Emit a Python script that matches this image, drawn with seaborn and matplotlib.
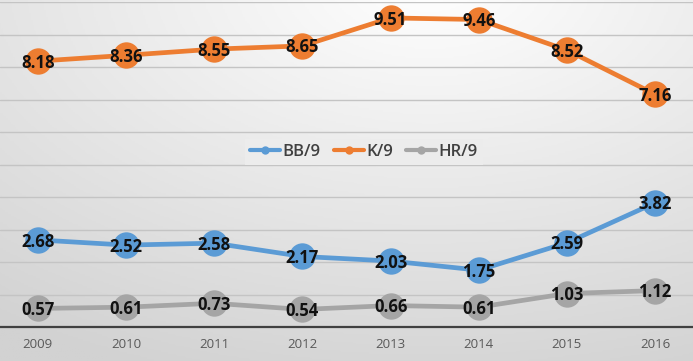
import matplotlib
matplotlib.use("Agg")
import matplotlib.pyplot as plt
import seaborn as sns
import numpy as np
import pandas as pd

years = ["2009", "2010", "2011", "2012", "2013", "2014", "2015", "2016"]
bb9 = [2.68, 2.52, 2.58, 2.17, 2.03, 1.75, 2.59, 3.82]
k9 = [8.18, 8.36, 8.55, 8.65, 9.51, 9.46, 8.52, 7.16]
hr9 = [0.57, 0.61, 0.73, 0.54, 0.66, 0.61, 1.03, 1.12]
series = ["BB/9", "K/9", "HR/9"]
colors = ["#5B9BD5", "#ED7D31", "#A5A5A5"]

df = pd.DataFrame({
    "year": years * 3,
    "value": bb9 + k9 + hr9,
    "series": [s for s in series for _ in years],
})
df["x"] = df["year"].map({y: i for i, y in enumerate(years)})

sns.set_style("white")
plt.rcParams["font.family"] = ["Open Sans", "DejaVu Sans"]

fig = plt.figure(figsize=(6.93, 3.61), dpi=100)

# radial-ish gradient background, light near top middle, gray toward edges
bg = fig.add_axes([0, 0, 1, 1], zorder=0)
gx = np.linspace(0, 1, 400)
gy = np.linspace(1, 0, 200)
GX, GY = np.meshgrid(gx, gy)
dist = np.sqrt(((GX - 0.62) * 1.0) ** 2 + ((1.05 - GY) * 0.9) ** 2)
grad = np.clip(dist / 1.05, 0, 1)
cmap = matplotlib.colors.LinearSegmentedColormap.from_list("g", ["#FFFFFF", "#D2D2D2"])
bg.imshow(grad, cmap=cmap, aspect="auto", extent=[0, 1, 0, 1], vmin=0, vmax=1)
bg.axis("off")

ax = fig.add_axes([0, 34 / 361, 1, 325 / 361], zorder=1)
ax.patch.set_alpha(0)

sns.lineplot(data=df, x="x", y="value", hue="series", palette=colors,
             hue_order=series, marker="o", markersize=19, linewidth=3.4,
             markeredgewidth=0, ax=ax)

for s, vals in zip(series, [bb9, k9, hr9]):
    for i, v in enumerate(vals):
        ax.text(i, v - 0.05, f"{v:.2f}", ha="center", va="center",
                fontsize=12, fontweight="bold", color="#111111", zorder=5)

ax.set_xlim(-0.43, 7.43)
ax.set_ylim(0, 10)
ax.set_yticks(range(0, 11))
ax.yaxis.grid(True, color="#C4C4C4", linewidth=1)
ax.set_axisbelow(True)
ax.tick_params(axis="y", left=False, labelleft=False)
ax.set_xticks(range(len(years)))
ax.set_xticklabels(years, color="#595959", fontsize=9.5)
ax.tick_params(axis="x", length=0, pad=8)
ax.set_xlabel("")
ax.set_ylabel("")
for sp in ["top", "left", "right"]:
    ax.spines[sp].set_visible(False)
ax.spines["bottom"].set_color("#404040")
ax.spines["bottom"].set_linewidth(1.6)

handles, labels = ax.get_legend_handles_labels()
for h in handles:
    h.set_markersize(6)
    h.set_linewidth(3)
leg = ax.legend(handles, labels, loc="center", bbox_to_anchor=(0.525, 0.54), ncol=3,
                frameon=True, fontsize=12, handlelength=1.8, columnspacing=0.8,
                handletextpad=0.15, labelcolor="#404040", borderpad=0.3,
                prop={"weight": "semibold", "size": 12})
leg.get_frame().set_facecolor("#ECECEC")
leg.get_frame().set_edgecolor("none")
leg.get_frame().set_alpha(1)
leg.get_frame().set_boxstyle("square", pad=0)

fig.savefig("out.png", dpi=100)
